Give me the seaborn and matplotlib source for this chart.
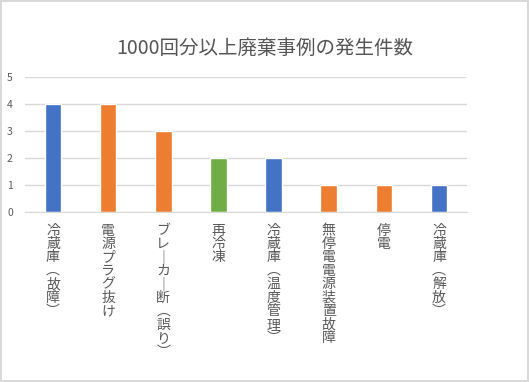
import matplotlib
matplotlib.use("Agg")
import matplotlib.pyplot as plt
import seaborn as sns
import pandas as pd

# data
categories = ["冷蔵庫(故障)", "電源プラグ抜け", "ブレーカー断(誤り)", "再冷凍",
              "冷蔵庫(温度管理)", "無停電電源装置故障", "停電", "冷蔵庫(解放)"]
counts = [4, 4, 3, 2, 2, 1, 1, 1]
bar_colors = ["#4472C4", "#ED7D31", "#ED7D31", "#70AD47",
              "#4472C4", "#ED7D31", "#ED7D31", "#4472C4"]
title = "1000回分以上廃棄事例の発生件数"

sns.set_style("white")
plt.rcParams['font.family'] = ['Noto Sans CJK JP', 'DejaVu Sans']

df = pd.DataFrame({"cat": categories, "n": counts})

fig = plt.figure(figsize=(5.29, 3.82), dpi=100)
fig.patch.set_edgecolor("#D9D9D9")
fig.patch.set_linewidth(1.5)
ax = fig.add_axes([0.048, 0.444, 0.834, 0.3536])

sns.barplot(data=df, x="cat", y="n", hue="cat", palette=bar_colors,
            legend=False, width=0.3, saturation=1, ax=ax)

ax.set_ylim(0, 5)
ax.set_yticks(range(0, 6))
ax.grid(axis="y", color="#D9D9D9", linewidth=1)
ax.set_axisbelow(True)
for s in ["top", "right", "left"]:
    ax.spines[s].set_visible(False)
ax.spines["bottom"].set_color("#D9D9D9")
ax.set_xlabel("")
ax.set_ylabel("")

# vertical (tategaki) labels: one character per line
def tate(s):
    s = s.replace("(", "︵").replace(")", "︶").replace("ー", "｜")
    return "\n".join(s)

ax.set_xticks(range(len(categories)))
ax.set_xticklabels([tate(c) for c in categories], va="top", ha="center",
                   fontsize=10, color="#595959", linespacing=0.95)
ax.tick_params(axis="x", length=0, pad=8)
ax.tick_params(axis="y", length=0, pad=9, labelsize=7.5, labelcolor="#595959")

fig.text(0.5, 0.874, title, ha="center", va="center", fontsize=14, color="#555555")

fig.savefig("out.png", dpi=100)
